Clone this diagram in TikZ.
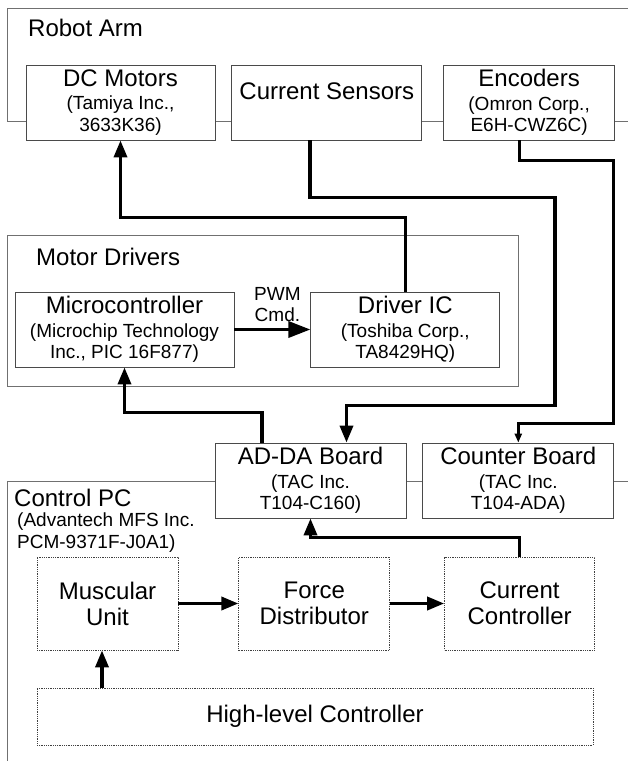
\documentclass[tikz,border=0pt]{standalone}
\usepackage{fontspec}
\setmainfont{Liberation Sans}
\usetikzlibrary{arrows.meta,positioning,calc}
\definecolor{boxgrey}{HTML}{4A4A4A}
\definecolor{framegrey}{HTML}{707070}
\newcommand\subsz{\fontsize{19}{21.5}\selectfont}
\newcommand\ttlsz{\fontsize{24}{26}\selectfont}
\tikzset{
  >={Triangle[length=17pt,width=13pt]},
  font=\subsz,
  frame/.style={draw=framegrey,line width=0.8pt},
  unit/.style={draw=boxgrey,line width=0.8pt,fill=white,align=center,inner sep=0pt,
               minimum height=75pt},
  soft/.style={draw=black!75,line width=0.8pt,densely dotted,fill=white,align=center,
               inner sep=0pt,font=\ttlsz},
  grouplbl/.style={anchor=base west,inner sep=0pt,font=\ttlsz},
  wire/.style={->,line width=3.5pt},
  flowlbl/.style={align=center,inner sep=0pt,font=\subsz},
}

\begin{document}
\begin{tikzpicture}[x=1pt,y=1pt]
  \useasboundingbox (0,0) rectangle (628,-761);

  % group frames (open to the right)
  \draw[frame] (628,-8) -| (7,-121) -- (628,-121);
  \draw[frame] (7,-235) rectangle (518,-386);
  \draw[frame] (628,-481) -| (7,-761);

  \node[grouplbl] (armlbl) at (28,-36) {Robot Arm};
  \node[grouplbl] (drvlbl) at (36,-265) {Motor Drivers};
  \node[grouplbl] (pclbl) at (14,-506) {Control PC};
  \node[flowlbl,anchor=north west,align=left] (pcmodel) at (17,-513)
    {(Advantech MFS Inc.\\PCM-9371F-J0A1)};

  % hardware on the arm
  \node[unit,minimum width=189pt] (dcm) at (120.5,-102.5)
    {{\ttlsz DC Motors}\\[2pt](Tamiya Inc.,\\3633K36)};
  \node[unit,minimum width=190pt,text height=17pt,text depth=24pt,right=16pt of dcm] (cs)
    {\ttlsz Current Sensors};
  \node[unit,minimum width=171pt,right=21pt of cs] (enc)
    {{\ttlsz Encoders}\\[2pt](Omron Corp.,\\E6H-CWZ6C)};

  % motor drivers
  \node[unit,minimum width=219pt] (mcu) at (124.5,-329.5)
    {{\ttlsz Microcontroller}\\[2pt](Microchip Technology\\Inc., PIC 16F877)};
  \node[unit,minimum width=189pt,right=76pt of mcu] (dic)
    {{\ttlsz Driver IC}\\[2pt](Toshiba Corp.,\\TA8429HQ)};

  % I/O boards
  \node[unit,minimum width=191pt] (adda) at (310.5,-480.5)
    {{\ttlsz AD-DA Board}\\[2pt](TAC Inc.\\T104-C160)};
  \node[unit,minimum width=191pt,right=16pt of adda] (cnt)
    {{\ttlsz Counter Board}\\[2pt](TAC Inc.\\T104-ADA)};

  % software on the control PC
  \node[soft,minimum width=141pt,minimum height=93pt] (mus) at (107.5,-603.5) {Muscular\\Unit};
  \node[soft,minimum width=151pt,minimum height=93pt,right=60pt of mus] (fd) {Force\\Distributor};
  \node[soft,minimum width=150pt,minimum height=93pt,right=54pt of fd] (cc) {Current\\Controller};
  \node[soft,minimum width=556pt,minimum height=57pt] (hlc) at (315,-716.5) {High-level Controller};

  % signal paths
  \draw[wire,-{Triangle[length=22pt,width=16pt]}] (mcu) --
    node[flowlbl,above=6pt,xshift=5pt] (pwm) {PWM\\Cmd.} (dic);
  \draw[wire] (dic.north) |- ($(dcm.south)+(0,-77)$) -- (dcm.south);
  \draw[wire] ([xshift=-17pt]cs.south) -- ++(0,-57) -| ++(245,-208) -| ([xshift=36pt]adda.north);
  \draw[wire,-{Triangle[length=9pt,width=7pt]}] ([xshift=-9.5pt]enc.south) -- ++(0,-20)
    -| ++(94,-263) -| (cnt.north);
  \draw[wire] ([xshift=-48.5pt]adda.north) -- ++(0,30) -| (mcu.south);
  \draw[wire] (cc.north) -- ++(0,19) -| (adda.south);
  \draw[wire] (mus) -- (fd);
  \draw[wire] (fd) -- (cc);
  \draw[wire] ([xshift=-5.5pt]mus.south |- hlc.north) -- ([xshift=-5.5pt]mus.south);
\end{tikzpicture}
\end{document}
